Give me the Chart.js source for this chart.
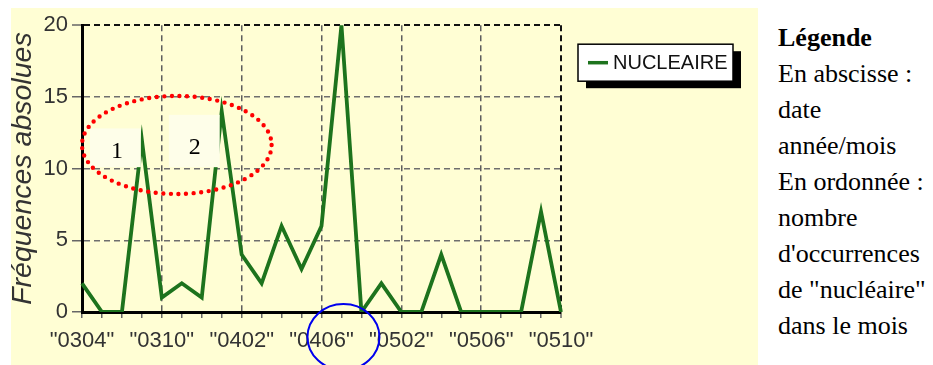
<!DOCTYPE html>
<html>
<head>
<meta charset="utf-8">
<script src="https://cdn.jsdelivr.net/npm/chart.js@4"></script>
<style>
  body { margin: 0; background: #fff; }
  #wrap { position: absolute; left: 11px; top: 8px; width: 747px; height: 357px; background: #fffed4; }
  #note {
    position: absolute; left: 778px; top: 20px;
    font-family: 'Liberation Serif', 'Times New Roman', serif;
    font-size: 26px; line-height: 36px; color: #000; white-space: nowrap;
  }
</style>
</head>
<body>
<div id="wrap"><canvas id="chart"></canvas></div>
<div id="note">
  <b>Légende</b><br>
  En abscisse :<br>
  date<br>
  année/mois<br>
  En ordonnée :<br>
  nombre<br>
  d'occurrences<br>
  de "nucléaire"<br>
  dans le mois
</div>
<script>
// mois (seuls ceux affichés sont lisibles sur l'image)
const categories = [
  '"0304"', '', '', '',
  '"0310"', '', '', '',
  '"0402"', '', '', '',
  '"0406"', '', '', '',
  '"0502"', '', '', '',
  '"0506"', '', '', '',
  '"0510"'
];
const nucleaire = [2, 0, 0, 12, 1, 2, 1, 14, 4, 2, 6, 3, 6, 20, 0, 2, 0, 0, 4, 0, 0, 0, 0, 7, 0];
const yTicks = [0, 5, 10, 15, 20];
const seriesName = 'NUCLEAIRE';
const lineColor = '#1d731d';

// annotations du document (cadres 1 / 2, ellipse rouge, cercle bleu)
const notes = [
  { text: '1', x0: 0.4, x1: 2.95, y0: 12.8, y1: 10.1, tx: 1.75, ty: 10.75 },
  { text: '2', x0: 4.35, x1: 6.9, y0: 13.75, y1: 10.1, tx: 5.65, ty: 11.0 }
];

const extras = {
  id: 'extras',
  afterDatasetsDraw(chart) {
    const { ctx, chartArea } = chart;
    const xs = chart.scales.x, ys = chart.scales.y;
    const step = xs.getPixelForValue(1) - xs.getPixelForValue(0);
    ctx.save();
    // cadres clairs + chiffres
    notes.forEach(n => {
      const l = xs.getPixelForValue(n.x0), r = xs.getPixelForValue(n.x1);
      const t = ys.getPixelForValue(n.y0), b = ys.getPixelForValue(n.y1);
      ctx.fillStyle = '#fefee9';
      ctx.fillRect(l, t, r - l, b - t);
      ctx.fillStyle = '#000';
      ctx.font = '24px "Liberation Serif", serif';
      ctx.textAlign = 'center';
      ctx.textBaseline = 'alphabetic';
      ctx.fillText(n.text, xs.getPixelForValue(n.tx), ys.getPixelForValue(n.ty));
    });
    // ellipse pointillée rouge
    ctx.beginPath();
    ctx.ellipse(xs.getPixelForValue(4.75), ys.getPixelForValue(11.65), step * 4.75, 49, 0, 0, Math.PI * 2);
    ctx.setLineDash([0, 7.6]);
    ctx.lineCap = 'round';
    ctx.lineWidth = 4.4;
    ctx.strokeStyle = '#ff0000';
    ctx.stroke();
    // cercle bleu sous l'axe
    ctx.beginPath();
    ctx.setLineDash([]);
    ctx.ellipse(xs.getPixelForValue(13.1), chartArea.bottom + 25, 36, 33, 0, 0, Math.PI * 2);
    ctx.lineWidth = 2;
    ctx.strokeStyle = '#0000ee';
    ctx.stroke();
    // légende encadrée avec ombre
    const lx = chartArea.right + 17, ly = chartArea.top + 19, lw = 155, lh = 37;
    ctx.fillStyle = '#000';
    ctx.fillRect(lx + 8, ly + 7, lw, lh);
    ctx.fillStyle = '#fff';
    ctx.fillRect(lx, ly, lw, lh);
    ctx.lineWidth = 1.5;
    ctx.strokeStyle = '#000';
    ctx.strokeRect(lx, ly, lw, lh);
    ctx.beginPath();
    ctx.moveTo(lx + 10, ly + lh / 2);
    ctx.lineTo(lx + 30, ly + lh / 2);
    ctx.lineCap = 'butt';
    ctx.lineWidth = 3.5;
    ctx.strokeStyle = lineColor;
    ctx.stroke();
    ctx.fillStyle = '#111';
    ctx.font = '20px "Liberation Sans", Arial, sans-serif';
    ctx.textAlign = 'left';
    ctx.textBaseline = 'middle';
    ctx.fillText(seriesName, lx + 35, ly + lh / 2 + 1);
    ctx.restore();
  }
};

new Chart(document.getElementById('chart').getContext('2d'), {
  type: 'line',
  data: {
    labels: categories,
    datasets: [
      {
        label: seriesName,
        data: nucleaire,
        borderColor: lineColor,
        borderWidth: 3.8,
        pointRadius: 0,
        tension: 0,
        fill: false,
      },
    ],
  },
  options: {
    responsive: true,
    maintainAspectRatio: false,
    animation: false,
    layout: {
      padding: { top: 16, right: 197, left: 0, bottom: 0 },
    },
    plugins: {
      legend: { display: false },
      tooltip: { enabled: false },
    },
    scales: {
      x: {
        offset: false,
        afterFit: (scale) => { scale.height = 53; },
        grid: {
          // dashed lines only at labelled months, black on the right edge
          color: (ctx) => ctx.index % 4 !== 0 ? 'rgba(0,0,0,0)' : (ctx.index === categories.length - 1 ? '#111' : '#5e5e5e'),
          lineWidth: (ctx) => ctx.index === categories.length - 1 ? 2 : 1.5,
          tickLength: 6,
          tickColor: '#666',
          tickWidth: 1.5,
        },
        border: { display: true, color: '#000', width: 3, dash: [6, 4] },
        ticks: {
          autoSkip: false,
          maxRotation: 0,
          padding: 10,
          color: '#333',
          font: { family: 'Liberation Sans', size: 22 },
          callback: (val, index) => categories[index],
        },
      },
      y: {
        min: 0,
        max: 20,
        afterFit: (scale) => { scale.width = 71; },
        afterBuildTicks: (scale) => { scale.ticks = yTicks.map((v) => ({ value: v })); },
        grid: {
          color: (ctx) => ctx.tick && ctx.tick.value === 20 ? '#111' : '#6e6e6e',
          lineWidth: (ctx) => ctx.tick && ctx.tick.value === 20 ? 2 : 1.5,
          tickLength: 10,
          tickColor: '#666',
          tickWidth: 1.5,
        },
        border: { display: true, color: '#000', width: 3, dash: [6, 4] },
        ticks: {
          padding: 4,
          color: '#333',
          font: { family: 'Liberation Sans', size: 22 },
        },
        title: {
          display: true,
          text: 'Fréquences absolues',
          color: '#333',
          padding: 0,
          font: { family: 'Liberation Sans', size: 28.5, style: 'italic', lineHeight: 0.86 },
        },
      },
    },
  },
  plugins: [extras],
});
</script>
</body>
</html>
